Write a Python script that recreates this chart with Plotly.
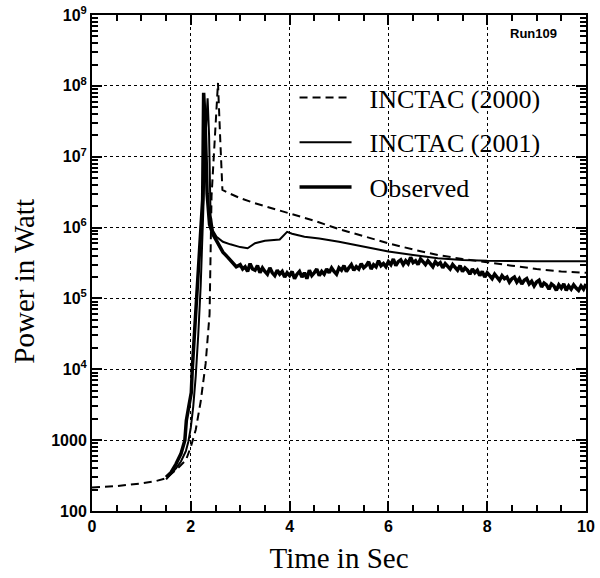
import plotly.graph_objects as go

# ---- data ----
t2000 = [0, 0.5, 1.0, 1.3, 1.5, 1.7, 1.9, 2.0, 2.1, 2.2, 2.3, 2.38, 2.42, 2.5, 2.55, 2.6, 2.64,
         2.8, 3.0, 3.3, 3.6, 4.0, 4.5, 5.0, 5.5, 6.0, 6.5, 7.0, 7.5, 8.0, 8.5, 9.0, 9.5, 10.0]
p2000 = [215, 225, 245, 265, 290, 380, 520, 800, 1400, 3500, 1.2e4, 6e4, 2.8e6, 3e7, 1.1e8, 1.5e7, 3.4e6,
         3.0e6, 2.6e6, 2.2e6, 1.9e6, 1.6e6, 1.25e6, 9.5e5, 7.5e5, 6.0e5, 4.9e5, 4.1e5, 3.6e5, 3.2e5, 2.9e5,
         2.6e5, 2.4e5, 2.3e5]

t2001 = [1.5, 1.6, 1.7, 1.8, 1.9, 1.95, 2.0, 2.05, 2.1, 2.15, 2.2, 2.25, 2.3, 2.34, 2.37, 2.4, 2.45,
         2.52, 2.65, 2.8, 3.0, 3.15, 3.3, 3.5, 3.8, 3.95, 4.05, 4.3, 4.6, 5.0, 5.5, 6.0, 6.5, 7.0, 7.5,
         8.0, 9.0, 9.35, 9.4, 10.0]
p2001 = [280, 330, 400, 500, 700, 950, 1500, 3000, 8000, 3e4, 1.5e5, 1.5e6, 2e7, 6.7e7, 2e7, 1.5e6, 9e5,
         7.4e5, 6.3e5, 5.8e5, 5.3e5, 5.1e5, 6.0e5, 6.5e5, 6.8e5, 8.7e5, 8.2e5, 7.4e5, 7.0e5, 6.3e5, 5.4e5,
         4.6e5, 4.1e5, 3.7e5, 3.5e5, 3.4e5, 3.35e5, 3.35e5, 3.35e5, 3.35e5]

t_obs = [1.5, 1.6, 1.7, 1.8, 1.88, 1.91, 1.96, 2.01, 2.03, 2.08, 2.12, 2.18, 2.22, 2.24, 2.26, 2.29,
         2.33, 2.38, 2.45, 2.55, 2.65, 2.75, 2.85, 2.92,
         3.0, 3.05, 3.1, 3.15, 3.2, 3.25, 3.3, 3.35, 3.4, 3.45, 3.5, 3.55, 3.6, 3.65, 3.7, 3.75, 3.8, 3.85, 3.9, 3.95,
         4.0, 4.05, 4.1, 4.15, 4.2, 4.25, 4.3, 4.35, 4.4, 4.45, 4.5, 4.55, 4.6, 4.65, 4.7, 4.75, 4.8, 4.85, 4.9, 4.95,
         5.0, 5.05, 5.1, 5.15, 5.2, 5.25, 5.3, 5.35, 5.4, 5.45, 5.5, 5.55, 5.6, 5.65, 5.7, 5.75, 5.8, 5.85, 5.9, 5.95,
         6.0, 6.05, 6.1, 6.15, 6.2, 6.25, 6.3, 6.35, 6.4, 6.45, 6.5, 6.55, 6.6, 6.65, 6.7, 6.75, 6.8, 6.85, 6.9, 6.95,
         7.0, 7.05, 7.1, 7.15, 7.2, 7.25, 7.3, 7.35, 7.4, 7.45, 7.5, 7.55, 7.6, 7.65, 7.7, 7.75, 7.8, 7.85, 7.9, 7.95,
         8.0, 8.05, 8.1, 8.15, 8.2, 8.25, 8.3, 8.35, 8.4, 8.45, 8.5, 8.55, 8.6, 8.65, 8.7, 8.75, 8.8, 8.85, 8.9, 8.95,
         9.0, 9.05, 9.1, 9.15, 9.2, 9.25, 9.3, 9.35, 9.4, 9.45, 9.5, 9.55, 9.6, 9.65, 9.7, 9.75, 9.8, 9.85, 9.9, 9.95, 10.0]
p_obs = [300, 350, 460, 640, 1000, 1900, 3000, 4700, 1e4, 4e4, 1e5, 4e5, 1.2e6, 2.5e6, 8e7, 3e7,
         3e6, 1.1e6, 8e5, 6e5, 4.5e5, 3.8e5, 3.1e5, 2.8e5,
         3.0e5, 2.6e5, 2.8e5, 2.4e5, 3.1e5, 2.6e5, 2.5e5, 2.9e5, 2.3e5, 2.7e5, 2.4e5, 2.2e5, 2.7e5, 2.3e5, 2.1e5, 2.5e5, 2.2e5, 2.4e5, 2.0e5, 2.3e5,
         2.1e5, 2.4e5, 1.9e5, 2.2e5, 2.4e5, 2.0e5, 2.3e5, 1.9e5, 2.5e5, 2.1e5, 2.3e5, 2.6e5, 2.1e5, 2.4e5, 2.2e5, 2.6e5, 2.3e5, 2.7e5, 2.4e5, 2.2e5,
         2.7e5, 2.5e5, 2.9e5, 2.4e5, 2.7e5, 3.0e5, 2.5e5, 2.8e5, 2.6e5, 3.1e5, 2.7e5, 2.9e5, 3.3e5, 2.6e5, 3.0e5, 2.8e5, 3.4e5, 2.9e5, 3.1e5, 2.8e5,
         3.3e5, 3.0e5, 3.6e5, 2.9e5, 3.3e5, 3.5e5, 3.0e5, 3.4e5, 3.1e5, 3.8e5, 3.2e5, 3.4e5, 3.0e5, 3.6e5, 3.3e5, 3.0e5, 3.4e5, 3.1e5, 2.8e5, 3.3e5,
         3.0e5, 3.2e5, 2.7e5, 3.1e5, 2.8e5, 2.6e5, 3.0e5, 2.7e5, 2.5e5, 2.9e5, 2.4e5, 2.7e5, 2.5e5, 2.2e5, 2.6e5, 2.3e5, 2.5e5, 2.1e5, 2.4e5, 2.0e5,
         2.3e5, 2.1e5, 1.9e5, 2.2e5, 2.0e5, 1.8e5, 2.1e5, 1.9e5, 2.0e5, 1.7e5, 1.9e5, 2.0e5, 1.7e5, 1.9e5, 1.6e5, 1.8e5, 1.9e5, 1.6e5, 1.75e5, 1.5e5,
         1.7e5, 1.8e5, 1.45e5, 1.65e5, 1.55e5, 1.35e5, 1.6e5, 1.5e5, 1.3e5, 1.55e5, 1.4e5, 1.6e5, 1.3e5, 1.5e5, 1.35e5, 1.55e5, 1.4e5, 1.3e5, 1.5e5, 1.35e5, 1.6e5]

x_ticks = [0, 2, 4, 6, 8, 10]
y_tickvals = [1e2, 1e3, 1e4, 1e5, 1e6, 1e7, 1e8, 1e9]
y_ticktext = ["100", "1000", "10<sup>4</sup>", "10<sup>5</sup>", "10<sup>6</sup>",
              "10<sup>7</sup>", "10<sup>8</sup>", "10<sup>9</sup>"]
names = ["INCTAC (2000)", "INCTAC (2001)", "Observed"]

x_minor = [k * 0.5 for k in range(1, 20)]
y_minor = [m * d for d in y_tickvals[:-1] for m in range(2, 10)]

fig = go.Figure()
fig.add_trace(go.Scatter(x=t2000, y=p2000, mode="lines", name="&nbsp;&nbsp;" + names[0], legendgroup="a",
                         line=dict(color="black", width=2, dash="8px,5px")))
fig.add_trace(go.Scatter(x=t2001, y=p2001, mode="lines", name="&nbsp;&nbsp;" + names[1], legendgroup="b",
                         line=dict(color="black", width=2)))
fig.add_trace(go.Scatter(x=t_obs, y=p_obs, mode="lines", name="&nbsp;&nbsp;" + names[2], legendgroup="c",
                         line=dict(color="black", width=3.5)))
# invisible companion trace so the tick-only overlay axes get a subplot
fig.add_trace(go.Scatter(x=t2000, y=p2000, mode="lines", xaxis="x2", yaxis="y2", showlegend=False,
                         hoverinfo="skip", line=dict(color="rgba(0,0,0,0)", width=0)))

tickfont = dict(family="Liberation Sans Narrow, Liberation Sans, Arial", size=16, color="black")
titlefont = dict(family="Liberation Serif, Times New Roman, serif", size=29, color="black")

fig.update_layout(
    width=600, height=578,
    margin=dict(l=92, r=14, t=15, b=67),
    paper_bgcolor="white", plot_bgcolor="white",
    showlegend=True,
    legend=dict(x=0.41, y=0.881, xanchor="left", yanchor="top", bgcolor="rgba(0,0,0,0)",
                font=dict(family="Liberation Serif, Times New Roman, serif", size=26, color="black"),
                tracegroupgap=8, itemwidth=52),
    annotations=[
        dict(text="<b>Run109</b>", x=0.945, y=0.963, xref="paper", yref="paper",
             xanchor="right", yanchor="middle", showarrow=False,
             font=dict(family="Liberation Sans, Arial", size=13, color="black")),
        dict(text="Power in Watt", x=-0.138, y=0.464, xref="paper", yref="paper", textangle=-90,
             xanchor="center", yanchor="middle", showarrow=False, font=titlefont),
    ],
    # main axes: labels, gridlines, frame
    xaxis=dict(range=[0, 10], tickvals=x_ticks, ticktext=["<b>%d</b>" % v for v in x_ticks],
               ticks="", showline=True, linewidth=2, linecolor="black", mirror=True,
               showgrid=True, gridcolor="black", griddash="dot", tickfont=tickfont,
               zeroline=False, automargin=False,
               title=dict(text="Time in Sec", font=titlefont, standoff=13)),
    yaxis=dict(type="log", range=[2, 9], tickvals=y_tickvals, ticktext=["<b>%s</b>" % s for s in y_ticktext],
               ticks="", showline=True, linewidth=2, linecolor="black", mirror=True,
               showgrid=True, gridcolor="black", griddash="dot", tickfont=tickfont,
               zeroline=False, automargin=False),
    # overlay axes: tick marks only (inside, mirrored)
    xaxis2=dict(overlaying="x", anchor="y2", side="bottom", range=[0, 10], tickvals=x_ticks,
                ticks="inside", ticklen=10, tickwidth=2, tickcolor="black",
                showline=True, linewidth=2, linecolor="black", mirror="ticks",
                showgrid=False, zeroline=False, showticklabels=False, automargin=False,
                minor=dict(tickvals=x_minor, ticks="inside", ticklen=6, tickwidth=2, tickcolor="black")),
    yaxis2=dict(overlaying="y", anchor="x2", side="left", type="log", range=[2, 9], tickvals=y_tickvals,
                ticks="inside", ticklen=10, tickwidth=2, tickcolor="black",
                showline=True, linewidth=2, linecolor="black", mirror="ticks",
                showgrid=False, zeroline=False, showticklabels=False, automargin=False,
                minor=dict(tickvals=y_minor, ticks="inside", ticklen=6, tickwidth=1.5, tickcolor="black")),
)

fig.write_html("out.html", post_script="document.body.style.margin='0px';",
               config={"displayModeBar": False})
